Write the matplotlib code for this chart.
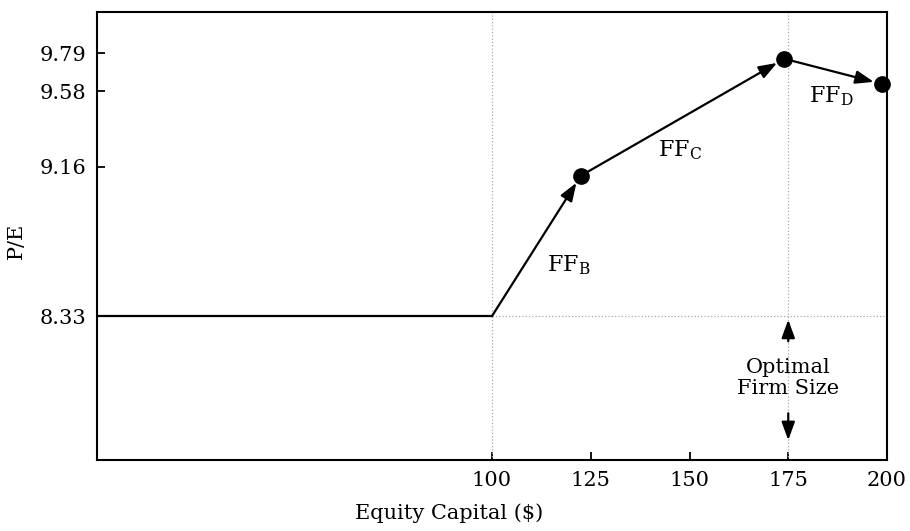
import matplotlib
matplotlib.use('Agg')
import matplotlib.pyplot as plt

# values
x_flat = [0, 100]
y_flat = [8.33, 8.33]
point_x = [100, 122.5, 174, 198.7]
point_y = [8.33, 9.11, 9.76, 9.62]
seg_labels = ['FF$_\\mathregular{B}$', 'FF$_\\mathregular{C}$', 'FF$_\\mathregular{D}$']
label_x = [119.5, 147.5, 186]
label_y = [8.61, 9.25, 9.55]
xticks = [100, 125, 150, 175, 200]
yticks = [8.33, 9.16, 9.58, 9.79]
optimal_x = 175

plt.rcParams['font.family'] = 'DejaVu Serif'
plt.rcParams['mathtext.fontset'] = 'dejavuserif'

fig = plt.figure(figsize=(9.1, 5.31), dpi=100)
ax = fig.add_axes([97/910, 1 - 460/531, (887-97)/910, (460-12)/531])

ax.set_xlim(0, 200)
ax.set_ylim(7.53, 10.02)

# dotted reference lines
ax.axvline(100, color='#aaaaaa', lw=0.9, ls=':')
ax.axvline(optimal_x, color='#aaaaaa', lw=0.9, ls=':')
ax.plot([100, 200], [8.33, 8.33], color='#aaaaaa', lw=0.9, ls=':')

ax.plot(x_flat, y_flat, color='black', lw=1.6)

arrow_style = '-|>,head_length=1.1,head_width=0.4'

# arrows between points
for i in range(3):
    ax.annotate('', xy=(point_x[i+1], point_y[i+1]), xytext=(point_x[i], point_y[i]),
                arrowprops=dict(arrowstyle=arrow_style,
                                color='black', lw=1.6, shrinkA=0, shrinkB=6))
    ax.text(label_x[i], label_y[i], seg_labels[i], fontsize=16, ha='center', va='center')

ax.plot(point_x[1:], point_y[1:], 'o', color='black', markersize=11, clip_on=False, zorder=5)

# optimal firm size annotation
ax.text(optimal_x, 7.985, 'Optimal\nFirm Size', fontsize=15, ha='center', va='center',
        linespacing=1.15)
ax.annotate('', xy=(optimal_x, 8.31), xytext=(optimal_x, 8.19),
            arrowprops=dict(arrowstyle=arrow_style, color='black', lw=1.6,
                            shrinkA=0, shrinkB=0))
ax.annotate('', xy=(optimal_x, 7.64), xytext=(optimal_x, 7.79),
            arrowprops=dict(arrowstyle=arrow_style, color='black', lw=1.6,
                            shrinkA=0, shrinkB=0))

ax.set_xticks(xticks)
ax.set_xticklabels([str(t) for t in xticks])
ax.set_yticks(yticks)
ax.set_yticklabels(['%.2f' % t for t in yticks])
ax.tick_params(direction='in', length=6, width=1.3, labelsize=15, pad=8)

for s in ax.spines.values():
    s.set_linewidth(1.5)

ax.set_xlabel('Equity Capital ($)', fontsize=15)
ax.xaxis.set_label_coords((449 - 97) / 790, (460 - 503) / 448)
ax.set_ylabel('P/E', fontsize=15)
ax.yaxis.set_label_coords((26 - 97) / 790, 0.49)

fig.savefig('out.png', dpi=100)
